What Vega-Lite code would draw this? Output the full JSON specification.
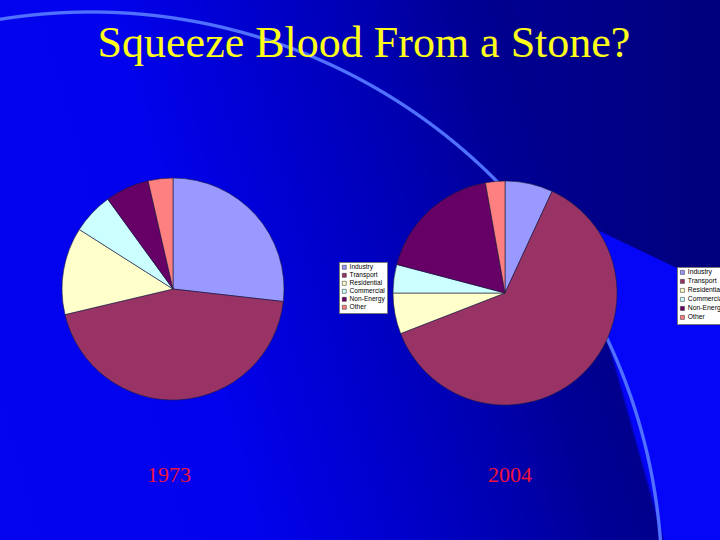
{
  "$schema": "https://vega.github.io/schema/vega-lite/v6.json",
  "width": 720,
  "height": 540,
  "padding": 0,
  "autosize": {"type": "none"},
  "background": "#0000C0",
  "config": {"view": {"stroke": null}},
  "datasets": {
    "pies": [
      {"year": "1973", "sector": "Industry", "i": 1, "share": 26.8},
      {"year": "1973", "sector": "Transport", "i": 2, "share": 44.5},
      {"year": "1973", "sector": "Residential", "i": 3, "share": 12.7},
      {"year": "1973", "sector": "Commercial", "i": 4, "share": 6.0},
      {"year": "1973", "sector": "Non-Energy", "i": 5, "share": 6.4},
      {"year": "1973", "sector": "Other", "i": 6, "share": 3.6},
      {"year": "2004", "sector": "Industry", "i": 1, "share": 6.9},
      {"year": "2004", "sector": "Transport", "i": 2, "share": 62.2},
      {"year": "2004", "sector": "Residential", "i": 3, "share": 5.9},
      {"year": "2004", "sector": "Commercial", "i": 4, "share": 4.1},
      {"year": "2004", "sector": "Non-Energy", "i": 5, "share": 18.1},
      {"year": "2004", "sector": "Other", "i": 6, "share": 2.8}
    ]
  },
  "resolve": {"scale": {"color": "independent", "y": "independent", "x": "independent"}},
  "layer": [
    {
      "data": {"values": [{}]},
      "mark": {"type": "rect", "fill": {"gradient": "linear", "x1": 0, "y1": 0, "x2": 1, "y2": 0,
        "stops": [
          {"offset": 0, "color": "#0404EE"},
          {"offset": 0.4, "color": "#0000DA"},
          {"offset": 0.6, "color": "#0000B4"},
          {"offset": 0.72, "color": "#000090"},
          {"offset": 1, "color": "#00007C"}
        ]}},
      "encoding": {}
    },
    {
      "data": {"values": [{}]},
      "mark": {"type": "rect", "fill": {"gradient": "linear", "x1": 0.71685, "y1": 0.29485, "x2": 0.66315, "y2": 0.37915,
        "stops": [
          {"offset": 0, "color": "rgba(5,5,248,0)"},
          {"offset": 0.49, "color": "rgba(5,5,248,0)"},
          {"offset": 0.51, "color": "#0505F8"},
          {"offset": 1, "color": "#0505F8"}
        ]}},
      "encoding": {}
    },
    {
      "data": {"values": [{}]},
      "mark": {"type": "rect", "fill": {"gradient": "linear", "x1": 0, "y1": 1, "x2": 1.15889, "y2": 0.75663,
        "stops": [
          {"offset": 0, "color": "#0404EE"},
          {"offset": 0.3, "color": "#0202EC"},
          {"offset": 0.4, "color": "#0000D8"},
          {"offset": 0.49, "color": "#0000C6"},
          {"offset": 0.6, "color": "#0000AE"},
          {"offset": 0.69, "color": "#000096"},
          {"offset": 0.76, "color": "#00008C"},
          {"offset": 0.7635, "color": "rgba(0,0,140,0)"},
          {"offset": 1, "color": "rgba(0,0,140,0)"}
        ]}},
      "encoding": {}
    },
    {
      "data": {"values": [{}]},
      "mark": {"type": "rect", "fill": {"gradient": "radial", "x1": 0.1264, "y1": 0.9347, "r1": 0, "x2": 0.1264, "y2": 0.9347, "r2": 0.8,
        "stops": [
          {"offset": 0, "color": "rgba(80,112,255,0)"},
          {"offset": 0.9875, "color": "rgba(80,112,255,0)"},
          {"offset": 0.9893, "color": "#5070FF"},
          {"offset": 0.9933, "color": "#5070FF"},
          {"offset": 0.9951, "color": "rgba(80,112,255,0)"},
          {"offset": 1, "color": "rgba(80,112,255,0)"}
        ]}},
      "encoding": {}
    },
    {
      "data": {"name": "pies"},
      "transform": [{"filter": "datum.year === '1973'"}],
      "mark": {"type": "arc", "outerRadius": 111, "stroke": "#1c1c3a", "strokeWidth": 0.6},
      "encoding": {
        "theta": {"field": "share", "type": "quantitative", "stack": true},
        "order": {"field": "i", "type": "quantitative"},
        "color": {"field": "sector", "type": "nominal",
          "scale": {"domain": ["Industry", "Transport", "Residential", "Commercial", "Non-Energy", "Other"],
                    "range": ["#9999FF", "#993366", "#FFFFCC", "#CCFFFF", "#660066", "#FF8080"]},
          "legend": {"title": null, "orient": "none", "legendX": 339, "legendY": 262, "direction": "vertical",
            "padding": 2, "fillColor": "#FFFFFF", "strokeColor": "#777777", "labelFont": "Liberation Sans",
            "labelFontSize": 6.6, "labelColor": "#000000", "symbolType": "square", "symbolSize": 16,
            "symbolStrokeColor": "#222222", "symbolStrokeWidth": 0.5, "rowPadding": 1.0, "labelOffset": 2}},
        "x": {"field": "year", "type": "nominal", "scale": {"type": "point", "domain": ["1973", "2004"], "padding": 0.5843, "align": 0.4459}, "axis": null},
        "y": {"datum": "pie", "type": "nominal", "scale": {"type": "point", "domain": ["pie"], "align": 0.5352}, "axis": null}
      }
    },
    {
      "data": {"name": "pies"},
      "transform": [{"filter": "datum.year === '2004'"}],
      "mark": {"type": "arc", "outerRadius": 112, "stroke": "#1c1c3a", "strokeWidth": 0.6},
      "encoding": {
        "theta": {"field": "share", "type": "quantitative", "stack": true},
        "order": {"field": "i", "type": "quantitative"},
        "color": {"field": "sector", "type": "nominal",
          "scale": {"domain": ["Industry", "Transport", "Residential", "Commercial", "Non-Energy", "Other"],
                    "range": ["#9999FF", "#993366", "#FFFFCC", "#CCFFFF", "#660066", "#FF8080"]},
          "legend": {"title": null, "orient": "none", "legendX": 677, "legendY": 267, "direction": "vertical",
            "padding": 2, "fillColor": "#FFFFFF", "strokeColor": "#777777", "labelFont": "Liberation Sans",
            "labelFontSize": 6.8, "labelColor": "#000000", "symbolType": "square", "symbolSize": 16,
            "symbolStrokeColor": "#222222", "symbolStrokeWidth": 0.5, "rowPadding": 1.0, "labelOffset": 2}},
        "x": {"field": "year", "type": "nominal", "scale": {"type": "point", "domain": ["1973", "2004"], "padding": 0.5843, "align": 0.4459}, "axis": null},
        "y": {"datum": "pie", "type": "nominal", "scale": {"type": "point", "domain": ["pie"], "align": 0.5426}, "axis": null}
      }
    },
    {
      "data": {"values": [{"year": "1973"}, {"year": "2004"}]},
      "mark": {"type": "text", "font": "Liberation Serif", "fontSize": 22, "fill": "#F0143A", "baseline": "alphabetic", "align": "center"},
      "encoding": {
        "text": {"field": "year"},
        "x": {"field": "year", "type": "nominal", "scale": {"type": "point", "domain": ["1973", "2004"], "padding": 0.5557, "align": 0.4459}, "axis": null},
        "y": {"datum": "label", "type": "nominal", "scale": {"type": "point", "domain": ["label"], "align": 0.8926}, "axis": null}
      }
    },
    {
      "data": {"values": [{"t": "Squeeze Blood From a Stone?"}]},
      "mark": {"type": "text", "font": "Liberation Serif", "fontSize": 44, "fill": "#FFFF1A", "baseline": "alphabetic", "align": "center", "dx": 4},
      "encoding": {
        "text": {"field": "t"},
        "y": {"datum": "title", "type": "nominal", "scale": {"type": "point", "domain": ["title"], "align": 0.1056}, "axis": null}
      }
    }
  ]
}
